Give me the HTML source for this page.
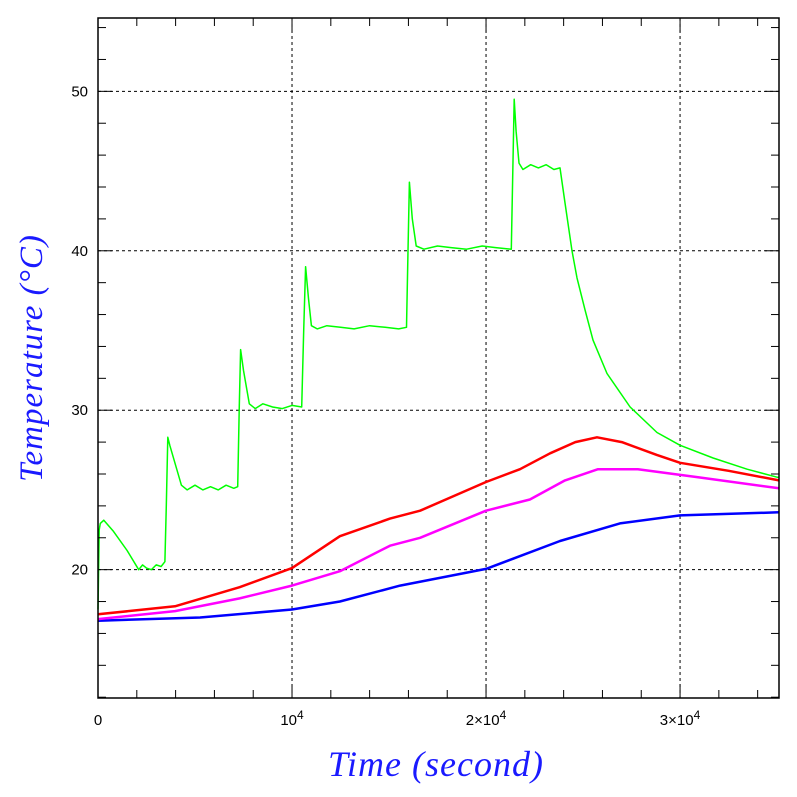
<!DOCTYPE html>
<html><head><meta charset="utf-8"><style>
html,body{margin:0;padding:0;background:#fff;}
svg{display:block;}
</style></head><body>
<svg id="chart" width="797" height="797" viewBox="0 0 797 797" xmlns="http://www.w3.org/2000/svg">
<rect x="0" y="0" width="797" height="797" fill="#fff"/>
<g id="grid"></g>
<g id="series"></g>
<g id="axes"></g>
<text transform="translate(42,358) rotate(-90)" text-anchor="middle" font-family="Liberation Serif, serif" font-style="italic" font-size="33" fill="#1a1aff" letter-spacing="1">Temperature (°C)</text>
<text x="436" y="776" text-anchor="middle" font-family="Liberation Serif, serif" font-style="italic" font-size="36" fill="#1a1aff" letter-spacing="1">Time (second)</text>
</svg>
<script>
const greenT=[0,60,120,300,800,1500,2100,2300,2500,2750,3000,3250,3450,3520,3600,3700,4300,4600,5000,5400,5800,6200,6600,7000,7200,7280,7350,7500,7800,8100,8500,9000,9500,10000,10500,10600,10700,10850,11000,11300,11800,12500,13200,14000,14800,15500,15900,15980,16050,16200,16400,16800,17500,18200,19000,19800,20500,21300,21380,21450,21550,21700,21900,22300,22700,23100,23500,23814,24072,24433,24691,25103,25515,26237,27423,28814,30000,31701,33454,35000,35100];
const greenV=[17.5,22.5,22.9,23.1,22.4,21.2,20.0,20.3,20.1,20.0,20.3,20.2,20.5,24.0,28.3,27.8,25.3,25.0,25.3,25.0,25.2,25.0,25.3,25.1,25.2,30.0,33.8,32.5,30.4,30.1,30.4,30.2,30.1,30.3,30.2,35.0,39.0,37.0,35.3,35.1,35.3,35.2,35.1,35.3,35.2,35.1,35.2,40.0,44.3,42.0,40.3,40.1,40.3,40.2,40.1,40.3,40.2,40.1,45.0,49.5,47.5,45.5,45.1,45.4,45.2,45.4,45.1,45.2,43.0,40.0,38.3,36.3,34.4,32.3,30.2,28.6,27.8,27.0,26.3,25.8,25.8];
const redT=[0,3970,7300,10000,12470,15050,16600,20000,21750,23300,24600,25720,27000,28800,30000,32500,35100];
const redV=[17.2,17.7,18.9,20.1,22.1,23.2,23.7,25.5,26.3,27.3,28.0,28.3,28.0,27.2,26.7,26.2,25.6];
const magT=[0,3970,7300,10000,12470,15050,16600,20000,22260,24070,25770,27830,30930,35100];
const magV=[16.9,17.4,18.2,19.0,19.9,21.5,22.0,23.7,24.4,25.6,26.3,26.3,25.8,25.1];
const bluT=[0,5260,10000,12470,15570,20000,23810,26900,30000,35100];
const bluV=[16.8,17.0,17.5,18.0,19.0,20.05,21.8,22.9,23.4,23.6];
const xTickVals=[0,10000,20000,30000];
const xTickBase=["0","10","2×10","3×10"];
const xTickExp=["","4","4","4"];
const yTickVals=[20,30,40,50];
const yTickLabels=["20","30","40","50"];

const L=98,R=779,T=18,B=698,XMIN=0,XMAX=35100,YMIN=11.95,YMAX=54.6;
const sx=v=>L+(v-XMIN)/(XMAX-XMIN)*(R-L);
const sy=v=>B-(v-YMIN)/(YMAX-YMIN)*(B-T);
const NS="http://www.w3.org/2000/svg";
function mk(tag,parent){const e=document.createElementNS(NS,tag);parent.appendChild(e);return e;}
const grid=document.getElementById('grid'),axes=document.getElementById('axes'),ser=document.getElementById('series');

xTickVals.forEach((v,i)=>{
  if(v>XMIN){const l=mk('line',grid);
  
  
  l.setAttribute('x1',sx(v));l.setAttribute('x2',sx(v));l.setAttribute('y1',T);l.setAttribute('y2',B);
  l.setAttribute('stroke','#000');l.setAttribute('stroke-dasharray','3,3');}
  const t=mk('text',axes);
  
  
  t.setAttribute('x',sx(v));t.setAttribute('y',725);t.setAttribute('text-anchor','middle');
  t.setAttribute('font-family','Liberation Sans, sans-serif');t.setAttribute('font-size','15');
  const b=mk('tspan',t);b.textContent=xTickBase[i];
  if(xTickExp[i]){const e=mk('tspan',t);e.setAttribute('dy','-6');e.setAttribute('font-size','12');e.textContent=xTickExp[i];}
});
yTickVals.forEach((v,i)=>{
  const l=mk('line',grid);
  
  
  l.setAttribute('x1',L);l.setAttribute('x2',R);l.setAttribute('y1',sy(v));l.setAttribute('y2',sy(v));
  l.setAttribute('stroke','#000');l.setAttribute('stroke-dasharray','3,3');
  const t=mk('text',axes);
  
  
  t.setAttribute('x',88);t.setAttribute('y',sy(v)+5);t.setAttribute('text-anchor','end');
  t.setAttribute('font-family','Liberation Sans, sans-serif');t.setAttribute('font-size','15');
  t.textContent=yTickLabels[i];
});
for(let v=2000;v<XMAX;v+=2000){
  const big=v%10000===0,len=big?14:8;
  [[B,B-len],[T,T+len]].forEach(p=>{const l=mk('line',axes);
  
  
  l.setAttribute('x1',sx(v));l.setAttribute('x2',sx(v));l.setAttribute('y1',p[0]);l.setAttribute('y2',p[1]);l.setAttribute('stroke','#000');});
}
for(let v=12;v<YMAX;v+=2){
  const big=v%10===0,len=big?14:8;
  [[L,L+len],[R,R-len]].forEach(p=>{const l=mk('line',axes);
  
  
  l.setAttribute('y1',sy(v));l.setAttribute('y2',sy(v));l.setAttribute('x1',p[0]);l.setAttribute('x2',p[1]);l.setAttribute('stroke','#000');});
}
const fr=mk('rect',axes);


fr.setAttribute('x',L);fr.setAttribute('y',T);fr.setAttribute('width',R-L);fr.setAttribute('height',B-T);
fr.setAttribute('fill','none');fr.setAttribute('stroke','#000');fr.setAttribute('stroke-width','1.5');

function line(ts,vs,color,w,name){
  const p=mk('polyline',ser);
  
  
  p.setAttribute('points',ts.map((t,i)=>sx(t).toFixed(1)+','+sy(vs[i]).toFixed(1)).join(' '));
  p.setAttribute('fill','none');p.setAttribute('stroke',color);p.setAttribute('stroke-width',w);
  p.setAttribute('stroke-linejoin','round');
}
line(bluT,bluV,'#0000ff',2.5,'blue-series');
line(magT,magV,'#ff00ff',2.5,'magenta-series');
line(redT,redV,'#ff0000',2.5,'red-series');
line(greenT,greenV,'#00ff00',1.5,'green-series');
</script>
</body></html>
